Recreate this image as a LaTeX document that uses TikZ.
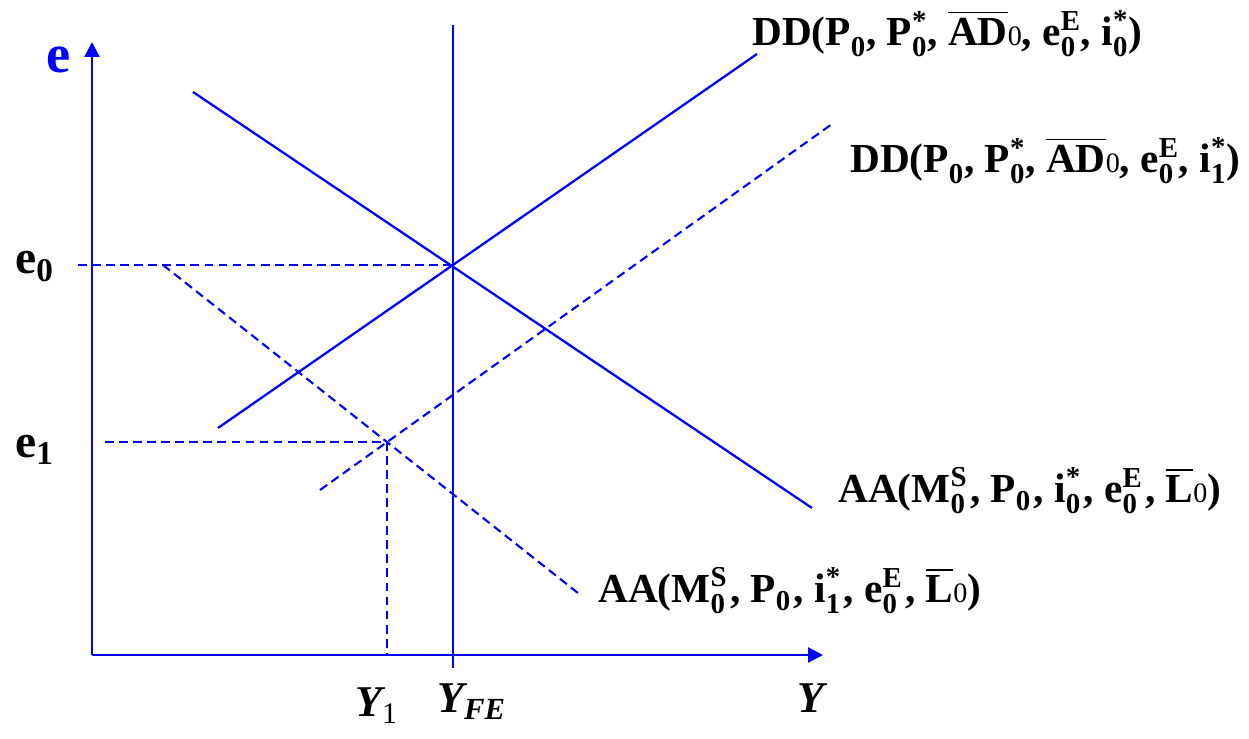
\documentclass[tikz,border=0pt]{standalone}
\usepackage{fontspec}
\setmainfont{Liberation Serif}
\usepackage{amsmath}
\usetikzlibrary{arrows.meta}
\newcommand{\bt}[1]{\text{\bfseries #1}}
\newcommand{\mt}[1]{\text{\mdseries\upshape\fontsize{16}{16}\selectfont #1}}
\newcommand{\gap}{\hspace{1.4pt}}
\begin{document}
\begin{tikzpicture}[x=0.02cm, y=-0.02cm,
    axis/.style={blue, line width=1.4pt, -{Triangle[length=8.5pt, width=8.5pt]}},
    curve/.style={blue, line width=1.3pt},
    guide/.style={blue, line width=1.2pt, dash pattern=on 5pt off 3pt},
    lab/.style={anchor=base west, inner sep=0pt, font=\fontsize{23.5}{27}\selectfont},
    axlab/.style={anchor=base west, inner sep=0pt, font=\fontsize{25}{29}\selectfont}]
    \useasboundingbox (0,0) rectangle (1249,739);
    % 坐标轴
    \coordinate (O) at (92,655);
    \coordinate (ytip) at (92,42);
    \coordinate (xtip) at (823,655);
    \draw[axis] (O) -- (ytip);
    \draw[axis] (O) -- (xtip);
    % 充分就业产出
    \coordinate (fetop) at (453,25);
    \coordinate (febot) at (453,668);
    \draw[curve] (febot) -- (fetop);
    % 初始均衡点与新均衡点
    \coordinate (E0) at (453,265);
    \coordinate (E1) at (387,442);
    % DD 曲线
    \coordinate (dd0a) at (218,428);
    \coordinate (dd0b) at (757,54);
    \coordinate (dd1a) at (320,490);
    \coordinate (dd1b) at (832,124);
    \draw[curve] (dd0a) -- (dd0b);
    \draw[guide] (dd1a) -- (dd1b);
    % AA 曲线
    \coordinate (aa0a) at (193,92);
    \coordinate (aa0b) at (812,508);
    \coordinate (aa1a) at (163,265);
    \coordinate (aa1b) at (578,593);
    \draw[curve] (aa0a) -- (aa0b);
    \draw[guide] (aa1a) -- (aa1b);
    % 虚线
    \coordinate (e0l) at (78,265);
    \coordinate (e1l) at (105,442);
    \coordinate (y1b) at (387,655);
    \draw[guide] (e0l) -- (E0);
    \draw[guide] (e1l) -- (E1);
    \draw[guide] (E1) -- (y1b);
    % 轴标签
    \node[anchor=base west, inner sep=0pt, blue, font=\fontsize{31}{35}\selectfont\bfseries] (elab) at (46,73) {e};
    \node[axlab, font=\fontsize{27}{31}\selectfont] (e0lab) at (15,274) {$\bt{e}_{\bt{0}}$};
    \node[axlab, font=\fontsize{27}{31}\selectfont] (e1lab) at (15,458) {$\bt{e}_{\bt{1}}$};
    \node[axlab] (y1lab) at (355,717) {$\bt{\itshape Y}_{\mt{\fontsize{17}{17}\selectfont 1}}$};
    \node[axlab] (yfelab) at (437,713) {$\bt{\itshape Y}_{\bt{\itshape FE}}$};
    \node[axlab] (ylab) at (797,713) {\bfseries\itshape Y};
    % 曲线标签
    \node[lab] (dd0lab) at (752,46)
        {$\bt{DD(P}_{\bt{0}}\bt{, P}^{\bt{*}}_{\bt{0}}\bt{, }\overline{\bt{AD}}\mt{0}\bt{, e}^{\bt{E}}_{\bt{0}}\bt{, i}^{\bt{*}}_{\bt{0}}\bt{)}$};
    \node[lab] (dd1lab) at (850,173)
        {$\bt{DD(P}_{\bt{0}}\bt{, P}^{\bt{*}}_{\bt{0}}\bt{, }\overline{\bt{AD}}\mt{0}\bt{, e}^{\bt{E}}_{\bt{0}}\bt{, i}^{\bt{*}}_{\bt{1}}\bt{)}$};
    \node[lab] (aa0lab) at (838,503)
        {$\bt{AA(M}^{\bt{S}}_{\bt{0}}\gap\bt{, P}_{\bt{0}}\gap\bt{, i}^{\bt{*}}_{\bt{0}}\gap\bt{, e}^{\bt{E}}_{\bt{0}}\gap\bt{, }\overline{\bt{L}}\mt{0}\bt{)}$};
    \node[lab] (aa1lab) at (598,603)
        {$\bt{AA(M}^{\bt{S}}_{\bt{0}}\gap\bt{, P}_{\bt{0}}\gap\bt{, i}^{\bt{*}}_{\bt{1}}\gap\bt{, e}^{\bt{E}}_{\bt{0}}\gap\bt{, }\overline{\bt{L}}\mt{0}\bt{)}$};
\end{tikzpicture}
\end{document}
